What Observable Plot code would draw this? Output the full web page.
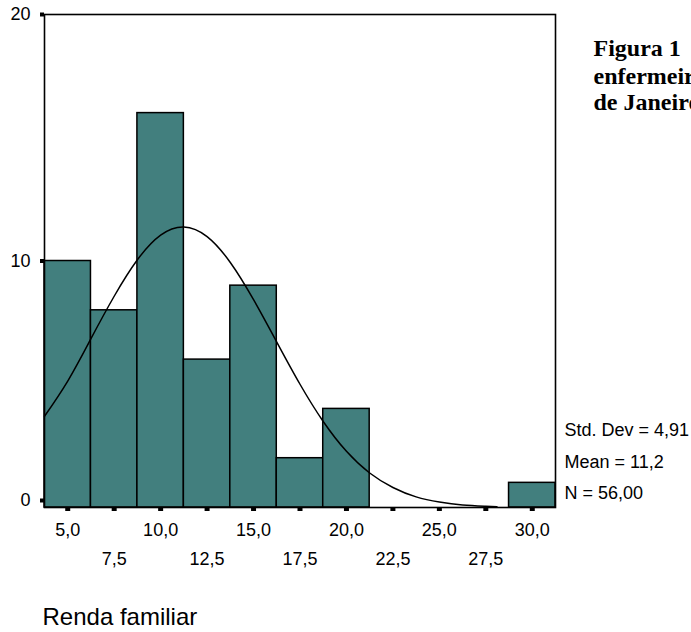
<!DOCTYPE html>
<html>
<head>
<meta charset="utf-8">
<script src="https://cdn.jsdelivr.net/npm/d3@7"></script>
<script src="https://cdn.jsdelivr.net/npm/@observablehq/plot@0.6"></script>
<style>
  html, body { margin: 0; padding: 0; background: #fff; overflow: hidden; }
  svg { overflow: hidden; }
</style>
</head>
<body>
<div id="chart"></div>
<script>
// ---- data ----
const binCenters = [5, 7.5, 10, 12.5, 15, 17.5, 20, 22.5, 25, 27.5, 30];
const counts     = [10, 8, 16, 6, 9, 2, 4, 0, 0, 0, 1];
const binWidth = 2.5;

// fitted normal curve (mean 11,2; sd 4,91; N 56)
const curveX = [3.75, 5, 6.25, 7.5, 8.75, 10, 11.25, 12.5, 13.75, 15, 16.25, 17.5, 18.75, 20, 21.25, 22.5, 23.75, 25, 26.25, 27.5, 28.1];
const curveY = [3.7, 5.13, 6.85, 8.57, 10.05, 11.05, 11.38, 10.99, 9.94, 8.43, 6.71, 5.0, 3.49, 2.28, 1.4, 0.81, 0.43, 0.22, 0.1, 0.05, 0.03];

const majorTicks = [5, 10, 15, 20, 25, 30];
const minorTicks = [7.5, 12.5, 17.5, 22.5, 27.5];

const statLines = ["Std. Dev = 4,91", "Mean = 11,2", "N = 56,00"];
const titleLines = ["Figura 1\u00a0\u00a0\u00a0Renda familiar dos", "enfermeiros do município do Rio", "de Janeiro"];
const xTitle = "Renda familiar";

// ---- tables ----
const bins = binCenters.map((c, i) => ({x1: c - binWidth / 2, x2: c + binWidth / 2, n: counts[i]})).filter(d => d.n > 0);
const curve = curveX.map((x, i) => ({x, y: curveY[i]}));
const fmt = v => d3.format(".1f")(v).replace(".", ",");

const W = 691, H = 632;
const mL = 44, mT = 14, mR = 136, mB = 125;

const statBaselines = [435, 467, 498];
const titleBaselines = [55, 83, 109];

const statMarks = statLines.map((s, i) =>
  Plot.text([s], {text: d => d, frameAnchor: "top-left", dx: 564 - mL, dy: statBaselines[i] - mT,
    textAnchor: "start", lineAnchor: "bottom", fontSize: 18, fill: "#000"}));
const titleMarks = titleLines.map((s, i) =>
  Plot.text([s], {text: d => d, frameAnchor: "top-left", dx: 593 - mL, dy: titleBaselines[i] - mT,
    textAnchor: "start", lineAnchor: "bottom", fontSize: 24, fontWeight: "bold",
    fontFamily: "'Liberation Serif', 'Times New Roman', serif", fill: "#000"}));

const chart = Plot.plot({
  width: W,
  height: H,
  marginLeft: mL,
  marginRight: mR,
  marginTop: mT,
  marginBottom: mB,
  style: {fontFamily: "'Liberation Sans', Arial, sans-serif", fontSize: "18px", background: "#fff", color: "#000", overflow: "hidden"},
  x: {domain: [3.75, 31.25], label: null},
  y: {domain: [0, 20], label: null},
  marks: [
    Plot.rectY(bins, {x1: "x1", x2: "x2", y: "n", fill: "#427f7e", stroke: "#000", strokeWidth: 1.5}),
    Plot.line(curve, {x: "x", y: "y", stroke: "#000", strokeWidth: 1.5, curve: "natural"}),
    Plot.frame({stroke: "#000", strokeWidth: 1.6}),
    // x tick marks
    Plot.axisX({ticks: [...majorTicks, ...minorTicks], tickSize: 4, strokeWidth: 5, tickFormat: () => "", label: null}),
    // x labels, alternating rows
    Plot.axisX({ticks: majorTicks, tickSize: 0, tickPadding: 16, tickFormat: fmt, label: null, fill: "#000"}),
    Plot.axisX({ticks: minorTicks, tickSize: 0, tickPadding: 45, tickFormat: fmt, label: null, fill: "#000"}),
    // y axis
    Plot.axisY({ticks: [10, 20], tickSize: 4, strokeWidth: 4, tickPadding: 10, tickFormat: d3.format("d"), label: null, fill: "#000"}),
    Plot.axisY({ticks: [0], tickSize: 4, strokeWidth: 4, tickPadding: 10, tickFormat: d3.format("d"), label: null, fill: "#000", dy: -7}),
    ...statMarks,
    ...titleMarks,
    Plot.text([xTitle], {text: d => d, frameAnchor: "top-left", dx: 42 - mL, dy: 624 - mT,
      textAnchor: "start", lineAnchor: "bottom", fontSize: 24, fill: "#000"})
  ]
});

document.getElementById("chart").appendChild(chart);
</script>
</body>
</html>
